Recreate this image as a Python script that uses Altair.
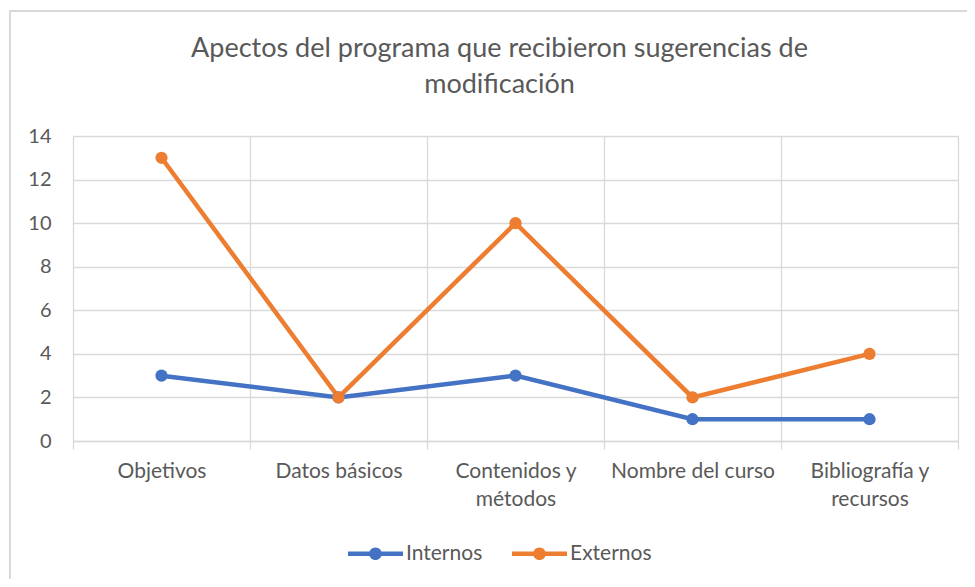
import altair as alt
import pandas as pd

categories = ["Objetivos", "Datos básicos", "Contenidos y métodos", "Nombre del curso", "Bibliografía y recursos"]
internos = [3, 2, 3, 1, 1]
externos = [13, 2, 10, 2, 4]
series = ["Internos", "Externos"]
colors = ["#4472C4", "#ED7D31"]
y_ticks = [0, 2, 4, 6, 8, 10, 12, 14]
title_lines = ["Apectos del programa que recibieron sugerencias de", "modificación"]

rows = []
for c, v in zip(categories, internos):
    rows.append({"Aspecto": c, "Serie": "Internos", "Valor": v})
for c, v in zip(categories, externos):
    rows.append({"Aspecto": c, "Serie": "Externos", "Valor": v})
df = pd.DataFrame(rows)

FONT = "Lato"
TXT = "#595959"
GRID = "#D9D9D9"

label_expr = (
    "datum.label == 'Contenidos y métodos' ? ['Contenidos y', 'métodos'] : "
    "datum.label == 'Bibliografía y recursos' ? ['Bibliografía y', 'recursos'] : datum.label"
)

x_enc = alt.X(
    "Aspecto:N",
    sort=categories,
    bandPosition=0.5,
    scale=alt.Scale(type="band", paddingInner=0, paddingOuter=0),
    axis=alt.Axis(
        title=None, labelAngle=0, tickBand="extent", grid=True, gridColor=GRID, gridWidth=1.3,
        domainColor=GRID, domainWidth=1.3, tickColor=GRID, tickWidth=1.3, tickSize=8,
        labelPadding=11, labelFont=FONT, labelFontSize=21, labelColor=TXT, labelLineHeight=28,
        labelExpr=label_expr,
    ),
)
y_enc = alt.Y(
    "Valor:Q",
    scale=alt.Scale(domain=[0, 14], nice=False),
    axis=alt.Axis(
        title=None, values=y_ticks, grid=True, gridColor=GRID, gridWidth=1.3, domain=False,
        ticks=False, labelPadding=22, labelFont=FONT, labelFontSize=20, labelColor=TXT,
    ),
)
sym_path = "M-1,-0.085H1V0.085H-1Z M0.23,0A0.23,0.23 0 1,1 -0.23,0A0.23,0.23 0 1,1 0.23,0Z"
color_enc = alt.Color(
    "Serie:N",
    sort=series,
    scale=alt.Scale(domain=series, range=colors),
    legend=alt.Legend(
        title=None, orient="none", direction="horizontal", legendX=275, legendY=390,
        symbolType=sym_path, symbolSize=3025, symbolStrokeWidth=0, symbolOpacity=1,
        labelFont=FONT, labelFontSize=21, labelColor=TXT, labelOffset=3, columnPadding=29,
    ),
)

base = alt.Chart(df)
lines = base.mark_line(strokeWidth=4.5, strokeCap="round").encode(x=x_enc, y=y_enc, color=color_enc)
points = base.mark_point(filled=True, size=150, opacity=1).encode(x=x_enc, y=y_enc, color=color_enc)

frame = alt.Chart(alt.Data(values=[{"f": 1}])).mark_rect(
    fill=None, stroke=GRID, strokeWidth=2
).encode(
    x=alt.value(-63), x2=alt.value(920), y=alt.value(-125), y2=alt.value(480)
)

chart = alt.layer(frame, lines, points).properties(
    width=885,
    height=305,
    padding={"left": 65, "top": 128, "right": 9, "bottom": 138},
    autosize=alt.AutoSizeParams(type="none"),
    title=alt.Title(
        title_lines, font=FONT, fontSize=27, fontWeight="normal", color=TXT,
        anchor="middle", frame="group", dx=-16, lineHeight=36, offset=-89,
    ),
).configure_view(stroke=None)

chart.save("out.html", embed_options={"renderer": "svg", "actions": False})
